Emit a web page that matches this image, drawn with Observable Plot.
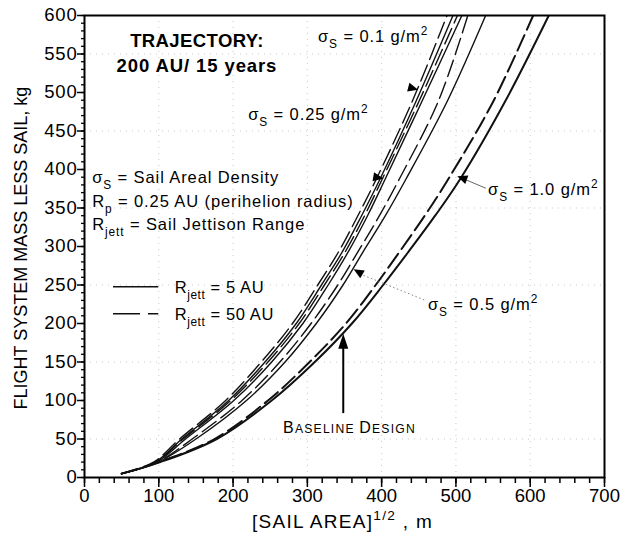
<!DOCTYPE html>
<html><head><meta charset="utf-8">
<script src="https://cdn.jsdelivr.net/npm/d3@7"></script>
<script src="https://cdn.jsdelivr.net/npm/@observablehq/plot@0.6"></script>
<style>body{margin:0;background:#fff} svg{display:block}</style>
</head><body><div id="chart"></div>
<script>
// Flight system mass levels (kg) at which sail size was read
const mass = [5, 20, 50, 100, 150, 200, 250, 293, 340, 388, 488, 600];
// [sail area]^1/2 (m) for each curve at those mass levels
const s01_50  = [50, 93, 128, 190, 238, 280, 314, 342, 368, 393, 441, 488];
const s01_5   = [50, 95, 131, 194, 243, 285, 319, 347, 373, 398, 446, 496];
const s025_50 = [50, 96, 133, 197, 247, 289, 323, 351, 377, 401, 450, 502];
const s025_5  = [50, 97, 136, 201, 252, 294, 328, 355, 381, 405, 454, 508];
const s05_50  = [50, 98, 145, 212, 263, 305, 341, 368, 397, 424, 476, 516];
const s05_5   = [50, 99, 150, 218, 270, 312, 348, 375, 405, 433, 488, 540];
const s10_50  = [50, 100, 175, 247, 303, 352, 392, 424, 458, 490, 550, 604];
const s10_5   = [50, 102, 178, 252, 310, 360, 402, 436, 472, 506, 566, 625];

const xTicks = [0, 100, 200, 300, 400, 500, 600, 700];
const yTicks = [0, 50, 100, 150, 200, 250, 300, 350, 400, 450, 500, 550, 600];

const series = [
  {sigma: "0.1", jett: "50 AU", x: s01_50},
  {sigma: "0.1", jett: "5 AU", x: s01_5},
  {sigma: "0.25", jett: "50 AU", x: s025_50},
  {sigma: "0.25", jett: "5 AU", x: s025_5},
  {sigma: "0.5", jett: "50 AU", x: s05_50},
  {sigma: "0.5", jett: "5 AU", x: s05_5},
  {sigma: "1.0", jett: "50 AU", x: s10_50},
  {sigma: "1.0", jett: "5 AU", x: s10_5}
];
const rows = series.flatMap(s => mass.map((m, i) => ({id: s.sigma + "|" + s.jett, sigma: s.sigma, jett: s.jett, size: s.x[i], mass: m})));

const lineMarks = series.map(s => Plot.line(rows.filter(d => d.id === s.sigma + "|" + s.jett), {
  x: "size", y: "mass", curve: "catmull-rom", clip: "frame",
  stroke: "#111",
  strokeWidth: s.sigma === "1.0" ? 2 : 1.4,
  strokeDasharray: s.jett === "50 AU" ? "17,6" : null
}));

const plot = Plot.plot({
  width: 624, height: 545,
  marginLeft: 84, marginRight: 20, marginTop: 15, marginBottom: 68,
  x: {domain: [0, 700], label: null},
  y: {domain: [0, 600], label: null},
  style: {fontFamily: "'Liberation Sans', Arial, sans-serif", fontSize: "18px", background: "#fff", color: "#000"},
  marks: [
    Plot.gridX([100, 200, 300, 400, 500, 600], {stroke: "#888", strokeDasharray: "1,5", strokeOpacity: 0.45}),
    Plot.gridY([50, 150, 250, 350, 450, 550], {stroke: "#888", strokeDasharray: "1,5", strokeOpacity: 0.45}),
    Plot.axisX({ticks: d3.range(0, 701, 20), tickSize: 6, tickFormat: () => "", strokeWidth: 1.5}),
    Plot.axisX({ticks: xTicks, tickSize: 10, tickPadding: 1, strokeWidth: 1.5, fontSize: 18.5}),
    Plot.axisY({ticks: d3.range(0, 601, 10), tickSize: 3, tickFormat: () => "", strokeWidth: 1.3}),
    Plot.axisY({ticks: yTicks, tickSize: 7, tickPadding: 0, strokeWidth: 1.5, fontSize: 18.5}),
    ...lineMarks,
    Plot.frame({stroke: "#000", strokeWidth: 2})
  ]
});
document.getElementById("chart").append(plot);

const svg = d3.select(plot);
svg.selectAll("[aria-label='y-axis tick label'] text").attr("letter-spacing", 0.8);
const X = v => plot.scale("x").apply(v);
const Y = v => plot.scale("y").apply(v);
const g = svg.append("g").attr("fill", "#000").attr("font-family", "'Liberation Sans', Arial, sans-serif");

function rtext(parts, px, py, {size = 16.5, weight = "normal", anchor = "start", ls = 0.9} = {}) {
  const t = g.append("text").attr("x", px).attr("y", py).attr("font-size", size)
    .attr("font-weight", weight).attr("text-anchor", anchor).attr("letter-spacing", ls);
  let shift = 0;
  for (const [s, k] of parts) {
    const target = k === "sub" ? size * 0.36 : k === "sup" ? -size * 0.42 : 0;
    const fs = (k === "sub" || k === "sup") ? size * 0.72 : k === "small" ? size * 0.76 : size;
    t.append("tspan").attr("dy", target - shift).attr("font-size", fs).text(s);
    shift = target;
  }
  return t;
}
const sig = v => [["σ"], ["S", "sub"], [" = " + v + " g/m"], ["2", "sup"]];

// Title block
rtext([["TRAJECTORY:"]], X(152), Y(558), {size: 18.5, weight: "bold", anchor: "middle", ls: 0.4});
rtext([["200 AU/ 15 years"]], X(152), Y(526), {size: 18.5, weight: "bold", anchor: "middle", ls: 0.9});

// Definitions
rtext([["σ"], ["S", "sub"], [" = Sail Areal Density"]], X(11), Y(382));
rtext([["R"], ["p", "sub"], [" = 0.25 AU (perihelion radius)"]], X(11), Y(351));
rtext([["R"], ["jett", "sub"], [" = Sail Jettison Range"]], X(11), Y(321));

// Legend
g.append("line").attr("x1", X(39)).attr("x2", X(100)).attr("y1", Y(247)).attr("y2", Y(247))
  .attr("stroke", "#111").attr("stroke-width", 1.6);
g.append("line").attr("x1", X(39)).attr("x2", X(100)).attr("y1", Y(212)).attr("y2", Y(212))
  .attr("stroke", "#111").attr("stroke-width", 1.6).attr("stroke-dasharray", "27,8");
rtext([["R"], ["jett", "sub"], [" = 5 AU"]], X(122), Y(239), {ls: 0.6});
rtext([["R"], ["jett", "sub"], [" = 50 AU"]], X(122), Y(204), {ls: 0.6});

// Density labels
rtext(sig("0.1"), X(315), Y(565));
rtext(sig("0.25"), X(221), Y(464));
rtext(sig("1.0"), X(544), Y(366));
rtext(sig("0.5"), X(463), Y(217));

// Leader lines
g.append("line").attr("x1", X(541)).attr("y1", Y(375)).attr("x2", X(514)).attr("y2", Y(386))
  .attr("stroke", "#555").attr("stroke-width", 0.9);
g.append("line").attr("x1", X(458)).attr("y1", Y(230)).attr("x2", X(376)).attr("y2", Y(262))
  .attr("stroke", "#777").attr("stroke-width", 0.9).attr("stroke-dasharray", "1.5,2.5");

// Triangular markers on curves
function tri(x, y, angle, s = 6) {
  g.append("path").attr("d", `M${s},0L${-s * 0.7},${s * 0.75}L${-s * 0.7},${-s * 0.75}Z`)
    .attr("transform", `translate(${X(x)},${Y(y)}) rotate(${angle})`).attr("fill", "#000");
}
tri(442, 505, 15);
tri(395, 389, 10);
tri(370, 266, 210);
tri(510, 388, 200);

// Baseline design arrow
const bx = X(349);
g.append("line").attr("x1", bx).attr("x2", bx).attr("y1", Y(83)).attr("y2", Y(172))
  .attr("stroke", "#000").attr("stroke-width", 2);
g.append("path").attr("d", `M${bx},${Y(186)}L${bx - 5},${Y(186) + 15}L${bx + 5},${Y(186) + 15}Z`).attr("fill", "#000");
rtext([["B"], ["ASELINE ", "small"], ["D"], ["ESIGN", "small"]], X(268), Y(57), {size: 16, ls: 1.2});

// Axis titles
rtext([["[SAIL AREA]"], ["1/2", "sup"], [" , m"]], X(348), 528, {size: 19, anchor: "middle", ls: 1.3});
g.append("text").attr("transform", `translate(27,${(Y(0) + Y(600)) / 2 + 2}) rotate(-90)`)
  .attr("text-anchor", "middle").attr("font-size", 18).text("FLIGHT SYSTEM MASS LESS SAIL, kg");
</script>
</body></html>
